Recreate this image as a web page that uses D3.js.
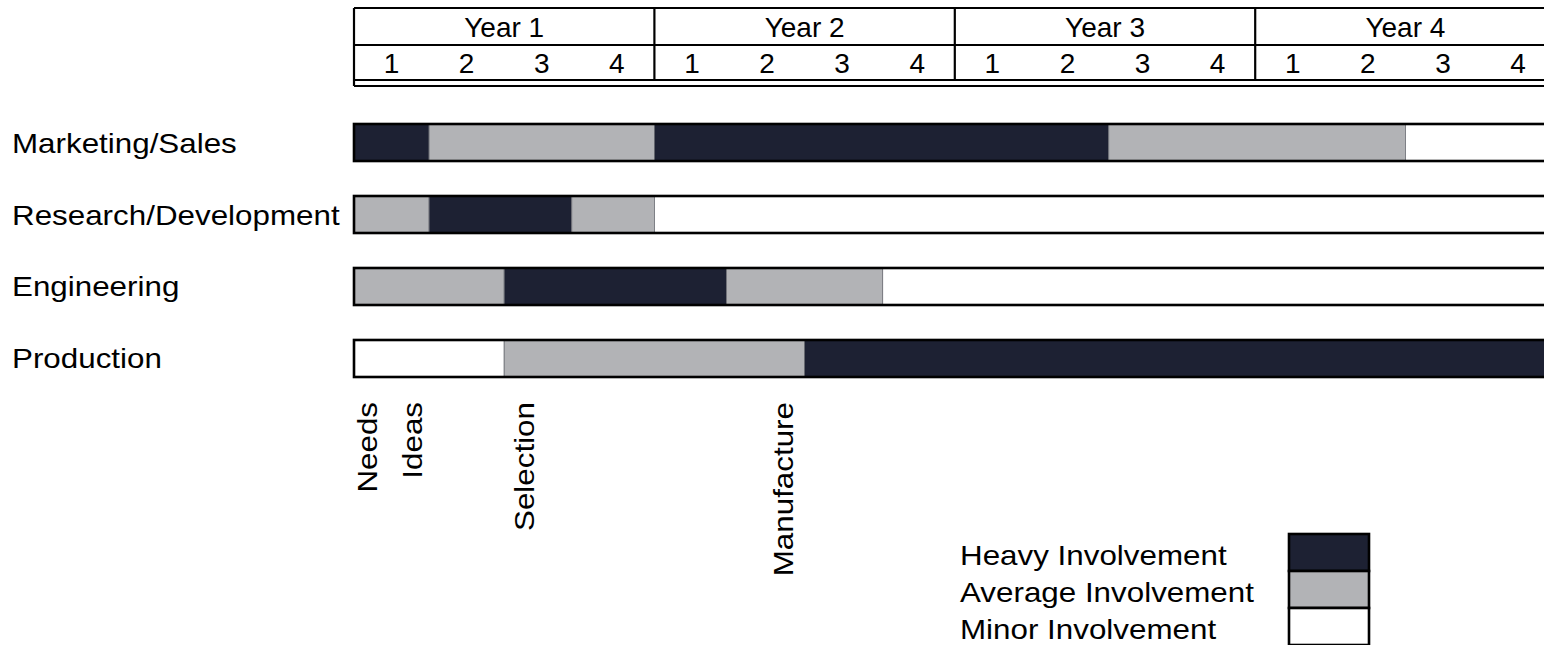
<!DOCTYPE html>
<html>
<head>
<meta charset="utf-8">
<script src="https://cdnjs.cloudflare.com/ajax/libs/d3/7.8.5/d3.min.js"></script>
<style>
    body { margin: 0; background: white; }
    svg text { font-family: "Liberation Sans", Arial, Helvetica, sans-serif; fill: #000; }
</style>
</head>
<body>
<svg id="chart" width="1544" height="645"></svg>
<script>
// data
const years = ["Year 1", "Year 2", "Year 3", "Year 4"];
const quarterLabels = ["1", "2", "3", "4"];
const functions = ["Marketing/Sales", "Research/Development", "Engineering", "Production"];
const levels = ["Heavy Involvement", "Average Involvement", "Minor Involvement"];
// segments in quarters from start: [from, to, level index]
const marketingSegs = [[0, 1, 0], [1, 4, 1], [4, 10.05, 0], [10.05, 14, 1], [14, 16, 2]];
const researchSegs = [[0, 1, 1], [1, 2.9, 0], [2.9, 4, 1], [4, 16, 2]];
const engineeringSegs = [[0, 2, 1], [2, 4.96, 0], [4.96, 7.04, 1], [7.04, 16, 2]];
const productionSegs = [[0, 2, 2], [2, 6, 1], [6, 16, 0]];
const milestones = ["Needs", "Ideas", "Selection", "Manufacture"];
const milestonePos = [0.3, 0.9, 2.4, 5.85];

const segsByFunction = [marketingSegs, researchSegs, engineeringSegs, productionSegs];
const levelColors = ["#1d2133", "#b2b3b6", "#ffffff"];
const stretch = 1.12; // the source type is a bit wide

const svg = d3.select("#chart");

const x = d3.scaleLinear().domain([0, 16]).range([354, 354 + 16 * 75.1]);
const y = d3.scaleBand().domain(functions).range([124, 377]).paddingInner(0.486).paddingOuter(0);
const color = d3.scaleOrdinal().domain(d3.range(3)).range(levelColors);

// header table
const header = svg.append("g");
const hTop = 8, hMid = 45, hBot = 80, hBot2 = 86;
const xEnd = x(16);

[hTop, hMid, hBot, hBot2].forEach(yy => {
    header.append("line")
        .attr("x1", x(0)).attr("x2", xEnd)
        .attr("y1", yy).attr("y2", yy)
        .attr("stroke", "#000").attr("stroke-width", 2.2);
});
header.append("line")
    .attr("x1", x(0)).attr("x2", x(0))
    .attr("y1", hTop).attr("y2", hBot2)
    .attr("stroke", "#000").attr("stroke-width", 2.2);

years.forEach((yr, i) => {
    if (i > 0) {
        header.append("line")
            .attr("x1", x(i * 4)).attr("x2", x(i * 4))
            .attr("y1", hTop).attr("y2", hBot)
            .attr("stroke", "#000").attr("stroke-width", 2.2);
    }
    header.append("text")
        .attr("x", x(i * 4 + 2)).attr("y", 37)
        .attr("text-anchor", "middle")
        .attr("font-size", "28px")
        .text(yr);
    quarterLabels.forEach((q, j) => {
        header.append("text")
            .attr("x", x(i * 4 + j + 0.5)).attr("y", 73)
            .attr("text-anchor", "middle")
            .attr("font-size", "28px")
            .text(q);
    });
});

// bars
const rows = svg.append("g")
    .selectAll("g")
    .data(functions)
    .enter().append("g");

rows.each(function(f, i) {
    const g = d3.select(this);
    g.selectAll("rect.seg")
        .data(segsByFunction[i])
        .enter().append("rect")
        .attr("class", "seg")
        .attr("x", d => x(d[0]))
        .attr("width", d => x(d[1]) - x(d[0]))
        .attr("y", y(f))
        .attr("height", y.bandwidth())
        .attr("fill", d => color(d[2]))
        .attr("stroke", "#6b6d74")
        .attr("stroke-width", 0.8);
    g.append("rect")
        .attr("x", x(0))
        .attr("width", x(16) - x(0))
        .attr("y", y(f))
        .attr("height", y.bandwidth())
        .attr("fill", "none")
        .attr("stroke", "#000")
        .attr("stroke-width", 2.6);
    g.append("text")
        .attr("transform", `translate(12, ${y(f) + y.bandwidth() / 2 + 10}) scale(${stretch}, 1)`)
        .attr("font-size", "28px")
        .text(f);
});

// milestone labels
svg.append("g")
    .selectAll("text")
    .data(milestones)
    .enter().append("text")
    .attr("transform", (d, i) => `translate(${x(milestonePos[i])}, 402) rotate(-90) scale(${stretch}, 1)`)
    .attr("text-anchor", "end")
    .attr("font-size", "28px")
    .text(d => d);

// legend
const legend = svg.append("g");
const legY = d3.scaleBand().domain(levels).range([534, 534 + 3 * 37]);
legend.selectAll("rect")
    .data(levels)
    .enter().append("rect")
    .attr("x", 1289)
    .attr("width", 80)
    .attr("y", d => legY(d))
    .attr("height", legY.bandwidth())
    .attr("fill", (d, i) => color(i))
    .attr("stroke", "#000")
    .attr("stroke-width", 2.6);
legend.selectAll("text")
    .data(levels)
    .enter().append("text")
    .attr("transform", d => `translate(960, ${legY(d) + legY.bandwidth() / 2 + 12}) scale(${stretch}, 1)`)
    .attr("font-size", "28px")
    .text(d => d);
</script>
</body>
</html>
